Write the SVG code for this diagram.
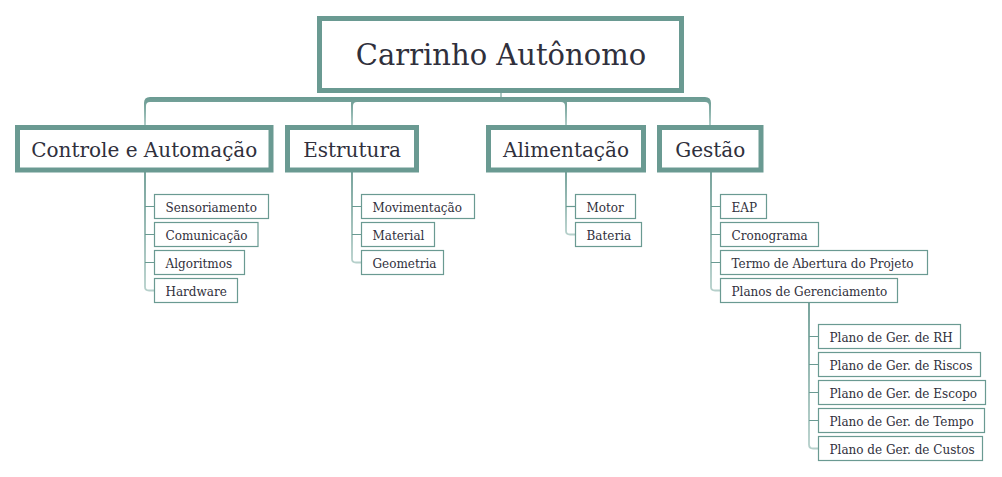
<svg xmlns="http://www.w3.org/2000/svg" width="1002" height="477" viewBox="0 0 1002 477">
<style>
.root{fill:#fff;stroke:#6a9a92;stroke-width:5}
.topic{fill:#fff;stroke:#6a9a92;stroke-width:5}
.sub{fill:#fff;stroke:#6a9a92;stroke-width:1.2}
.t0{font-family:"DejaVu Serif",serif;font-size:29px;fill:#30303c;text-anchor:middle}
.t1{font-family:"DejaVu Serif",serif;font-size:20px;fill:#30303c;text-anchor:middle}
.t2{font-family:"DejaVu Serif",serif;font-size:12px;fill:#30303c}
.br{fill:url(#gBr)}
.vl{fill:none;stroke:url(#gV);stroke-width:1.8}
.stub{fill:none;stroke:#6a9a92;stroke-width:1.2}
</style>
<defs>
<linearGradient id="gBr" gradientUnits="userSpaceOnUse" x1="0" y1="97" x2="0" y2="126">
<stop offset="0" stop-color="#6a9a92"/><stop offset="0.3" stop-color="#7aa69e"/><stop offset="1" stop-color="#b2cec9"/>
</linearGradient>
<linearGradient id="gV" x1="0" y1="0" x2="0" y2="1">
<stop offset="0" stop-color="#6a9a92"/><stop offset="1" stop-color="#b6d0cb"/>
</linearGradient>
</defs>
<g id="connectors">
<line x1="501" y1="92" x2="501" y2="99" stroke="#8fb5ae" stroke-width="1.5"/>
<path class="br" d="M501,97 H150 Q144,97 144,103 V126 H146 V106 Q146,102 150,102 H501 Z"/>
<path class="br" d="M501,97 H357 Q351,97 351,103 V126 H353 V106 Q353,102 357,102 H501 Z"/>
<path class="br" d="M501,97 H561 Q567,97 567,103 V126 H565 V106 Q565,102 561,102 H501 Z"/>
<path class="br" d="M501,97 H705 Q711,97 711,103 V126 H709 V106 Q709,102 705,102 H501 Z"/>
<path class="vl" d="M145,172 V287 Q145,290.5 149,290.5 H154.5"/>
<path class="stub" d="M145,206.5 H154.5 M145,234.5 H154.5 M145,262.5 H154.5"/>
<path class="vl" d="M352,172 V259 Q352,262.5 356,262.5 H361.5"/>
<path class="stub" d="M352,206.5 H361.5 M352,234.5 H361.5"/>
<path class="vl" d="M566,172 V231 Q566,234.5 570,234.5 H575.5"/>
<path class="stub" d="M566,206.5 H575.5"/>
<path class="vl" d="M711,172 V287 Q711,290.5 715,290.5 H720.5"/>
<path class="stub" d="M711,206.5 H720.5 M711,234.5 H720.5 M711,262.5 H720.5"/>
<path class="vl" d="M809,302.5 V444.5 Q809,448.5 813,448.5 H818.5"/>
<path class="stub" d="M809,336.5 H818.5 M809,364.5 H818.5 M809,392.5 H818.5 M809,420.5 H818.5"/>
</g>
<g id="root">
<rect class="root" x="319.5" y="18.5" width="362" height="72"/>
<text class="t0" x="501" y="65">Carrinho Autônomo</text>
</g>
<g id="controle">
<rect class="topic" x="17.5" y="127.5" width="253.5" height="42.5"/>
<text class="t1" x="144.25" y="157">Controle e Automação</text>
</g>
<g id="estrutura">
<rect class="topic" x="287.5" y="127.5" width="129" height="42.5"/>
<text class="t1" x="352" y="157">Estrutura</text>
</g>
<g id="alimentacao">
<rect class="topic" x="488.5" y="127.5" width="155" height="42.5"/>
<text class="t1" x="566" y="157">Alimentação</text>
</g>
<g id="gestao">
<rect class="topic" x="659.5" y="127.5" width="101.5" height="42.5"/>
<text class="t1" x="710.25" y="157">Gestão</text>
</g>
<g id="sensoriamento"><rect class="sub" x="154.5" y="194.5" width="114" height="24"/><text class="t2" x="165.5" y="211.5">Sensoriamento</text></g>
<g id="comunicacao"><rect class="sub" x="154.5" y="222.5" width="103.5" height="24"/><text class="t2" x="165.5" y="239.5">Comunicação</text></g>
<g id="algoritmos"><rect class="sub" x="154.5" y="250.5" width="90" height="24"/><text class="t2" x="165.5" y="267.5">Algoritmos</text></g>
<g id="hardware"><rect class="sub" x="154.5" y="278.5" width="83" height="24"/><text class="t2" x="165.5" y="295.5">Hardware</text></g>
<g id="movimentacao"><rect class="sub" x="361.5" y="194.5" width="113" height="24"/><text class="t2" x="372.5" y="211.5">Movimentação</text></g>
<g id="material"><rect class="sub" x="361.5" y="222.5" width="73" height="24"/><text class="t2" x="372.5" y="239.5">Material</text></g>
<g id="geometria"><rect class="sub" x="361.5" y="250.5" width="82" height="24"/><text class="t2" x="372.5" y="267.5">Geometria</text></g>
<g id="motor"><rect class="sub" x="575.5" y="194.5" width="60" height="24"/><text class="t2" x="586.5" y="211.5">Motor</text></g>
<g id="bateria"><rect class="sub" x="575.5" y="222.5" width="66" height="24"/><text class="t2" x="586.5" y="239.5">Bateria</text></g>
<g id="eap"><rect class="sub" x="720.5" y="194.5" width="46" height="24"/><text class="t2" x="731.5" y="211.5">EAP</text></g>
<g id="cronograma"><rect class="sub" x="720.5" y="222.5" width="98" height="24"/><text class="t2" x="731.5" y="239.5">Cronograma</text></g>
<g id="termo"><rect class="sub" x="720.5" y="250.5" width="207" height="24"/><text class="t2" x="731.5" y="267.5">Termo de Abertura do Projeto</text></g>
<g id="planos"><rect class="sub" x="720.5" y="278.5" width="177" height="24"/><text class="t2" x="731.5" y="295.5">Planos de Gerenciamento</text></g>
<g id="rh"><rect class="sub" x="818.5" y="324.5" width="142" height="24"/><text class="t2" x="829.5" y="341.5">Plano de Ger. de RH</text></g>
<g id="riscos"><rect class="sub" x="818.5" y="352.5" width="162" height="24"/><text class="t2" x="829.5" y="369.5">Plano de Ger. de Riscos</text></g>
<g id="escopo"><rect class="sub" x="818.5" y="380.5" width="167" height="24"/><text class="t2" x="829.5" y="397.5">Plano de Ger. de Escopo</text></g>
<g id="tempo"><rect class="sub" x="818.5" y="408.5" width="166" height="24"/><text class="t2" x="829.5" y="425.5">Plano de Ger. de Tempo</text></g>
<g id="custos"><rect class="sub" x="818.5" y="436.5" width="164" height="24"/><text class="t2" x="829.5" y="453.5">Plano de Ger. de Custos</text></g>
</svg>
